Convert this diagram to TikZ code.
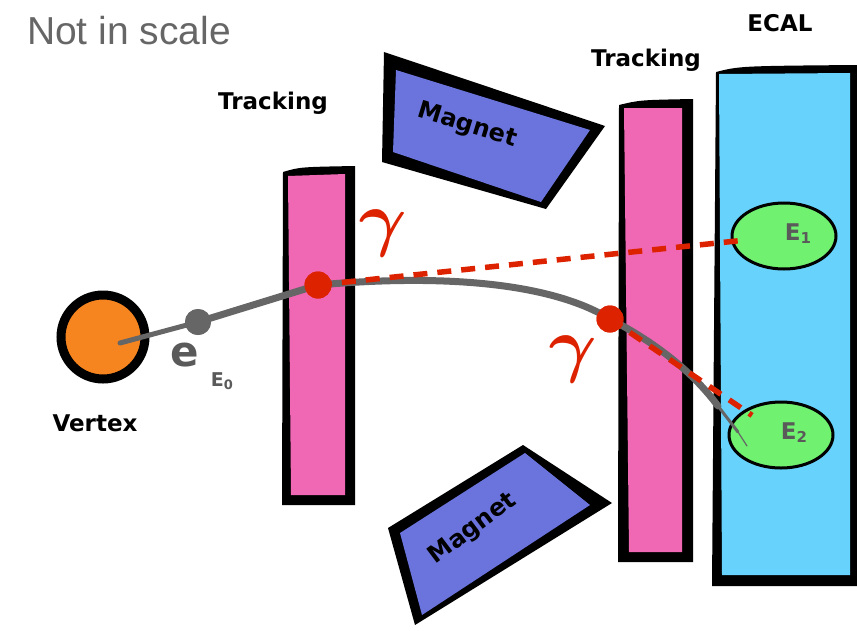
\documentclass[tikz,border=0pt]{standalone}
\usepackage{fontspec}
\setmainfont{Liberation Sans}
\newfontfamily\labfont{DejaVu Sans}
\usetikzlibrary{shapes.geometric}

\definecolor{barpink}{HTML}{F067B4}
\definecolor{magblue}{HTML}{6B74DC}
\definecolor{ecalcyan}{HTML}{67D2FB}
\definecolor{cluster}{HTML}{70F170}
\definecolor{vtxorange}{HTML}{F7851F}
\definecolor{photonred}{HTML}{DD2200}
\definecolor{trackgray}{HTML}{666666}
\definecolor{textgray}{HTML}{5A5A5A}

\newcommand{\bigphoton}{\scalebox{5.0}{\Large\boldmath$\gamma$}}

\tikzset{
  lab/.style={font=\labfont\bfseries\fontsize{23}{23}\selectfont, inner sep=0pt},
  maglab/.style={font=\labfont\bfseries\fontsize{24}{24}\selectfont, inner sep=0pt},
  vtx/.style={circle, draw=black, line width=9pt, fill=vtxorange, minimum size=84pt, inner sep=0pt},
  edot/.style={circle, fill=trackgray, minimum size=26pt, inner sep=0pt},
  reddot/.style={circle, fill=photonred, minimum size=27pt, inner sep=0pt},
  cluster/.style={ellipse, draw=black, line width=3pt, fill=cluster, minimum width=104pt, minimum height=66pt, inner sep=0pt},
  track/.style={draw=trackgray, line width=7pt, line cap=round, line join=round},
  photon/.style={draw=photonred, line width=5.5pt, dash pattern=on 14pt off 10pt},
  gam/.style={text=photonred, inner sep=0pt},
  elab/.style={text=textgray, inner sep=0pt, font=\labfont\bfseries\fontsize{23}{23}\selectfont},
}

\begin{document}
\begin{tikzpicture}[x=1pt,y=-1pt]
\useasboundingbox (0,0) rectangle (857,630);

% first tracking station
\fill[black] (283,172) .. controls (300,167) .. (355,166) -- (355,505) -- (282,505) -- cycle;
\fill[barpink] (288,176) -- (345,174) -- (345,495) -- (291,495) -- cycle;

% second tracking station
\fill[black] (619,105) .. controls (640,100) .. (693,99) -- (693,562) -- (618,562) -- cycle;
\fill[barpink] (624,108) -- (682,108) -- (682,552) -- (629,552) -- cycle;

% electromagnetic calorimeter
\fill[black] (716,72) .. controls (740,66) .. (857,65) -- (857,586) -- (712,586) -- cycle;
\fill[ecalcyan] (719,74) -- (850,73) -- (850,575) -- (722,575) -- cycle;

% magnets
\fill[black] (384,52) -- (605,126) -- (546,209) -- (382,162) -- cycle;
\fill[magblue] (396,70) -- (590,130) -- (541,202) -- (393,152) -- cycle;
\fill[black] (523,445) -- (612,503) -- (415,625) -- (388,528) -- cycle;
\fill[magblue] (525,453) -- (590,505) -- (422,615) -- (400,533) -- cycle;

\node[maglab, rotate=-17] (magtop) at (467,126) {Magnet};
\node[maglab, rotate=37] (magbot) at (473,529) {Magnet};

% labels
\node[text=trackgray, inner sep=0pt, font=\fontsize{39}{39}\selectfont] (scale) at (129,31) {Not in scale};
\node[lab] (trk1) at (273,103) {Tracking};
\node[lab] (trk2) at (646,60) {Tracking};
\node[lab] (ecal) at (780,23) {ECAL};
\node[lab] (vtxlab) at (95,423) {Vertex};

% vertex and energy deposits
\node[vtx] (vertex) at (103,337) {};
\node[cluster] (E1) at (784,236) {};
\node[cluster] (E2) at (781,435) {};
\node[elab] (E1lab) at (798,234) {E\raisebox{-3pt}{\fontsize{15}{15}\selectfont 1}};
\node[elab] (E2lab) at (794,433) {E\raisebox{-3pt}{\fontsize{15}{15}\selectfont 2}};

% electron track
\coordinate (trkstart) at (120,343);
\coordinate (tail1) at (718,406);
\coordinate (tail2) at (738,432);
\coordinate (tail3) at (747,446);
\node[edot] (e0) at (198,322) {};
\node[reddot] (g1) at (318,285) {};
\node[reddot] (g2) at (610,319) {};

\draw[track, line width=5pt] (trkstart) -- (e0.center);
\draw[track] (e0.center) -- (g1.center)
  .. controls (440,274) and (550,282) .. (g2.center)
  .. controls (660,345) and (695,375) .. (tail1);
\draw[track, line width=3pt] (tail1) -- (tail2);
\draw[track, line width=1.2pt] (tail2) -- (tail3);

% photons
\draw[photon, shorten >=41pt] (g1.center) -- (E1.center);
\draw[photon, shorten >=35pt] (g2.center) -- (E2.center);
\node[reddot] at (g1) {};
\node[reddot] at (g2) {};
\node[edot] at (e0) {};

\node[gam, rotate=-5] (gam1) at (382,234) {\bigphoton};
\node[gam, rotate=-5] (gam2) at (572,360) {\bigphoton};

% electron label
\node[text=textgray, inner sep=0pt, font=\labfont\bfseries\fontsize{42}{42}\selectfont] (elab) at (185,355) {e};
\node[elab, font=\labfont\bfseries\fontsize{19}{19}\selectfont] (E0lab) at (222,381) {E\raisebox{-3pt}{\fontsize{13}{13}\selectfont 0}};
\end{tikzpicture}
\end{document}
